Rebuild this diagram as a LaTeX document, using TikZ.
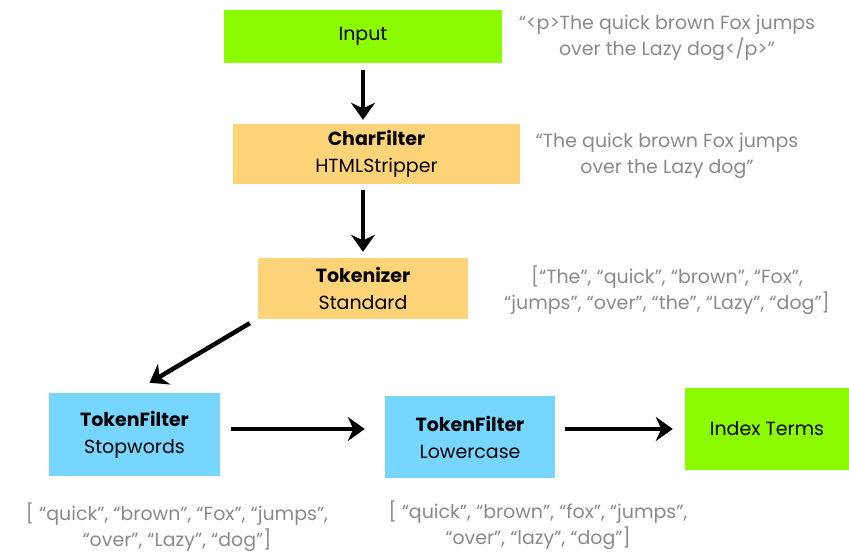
\documentclass[tikz,border=0pt]{standalone}
\usepackage{fontspec}
\setmainfont{Poppins}
\usetikzlibrary{arrows.meta}
\definecolor{boxgreen}{HTML}{8CFB00}
\definecolor{boxorange}{HTML}{FFD479}
\definecolor{boxblue}{HTML}{76D6FF}
\definecolor{notegray}{HTML}{8A8A8A}
\tikzset{
  box/.style={rectangle, draw=none, inner sep=0pt, align=center, text=black,
    font=\fontsize{19}{27}\selectfont},
  note/.style={align=center, text=notegray, inner sep=0pt,
    font=\fontsize{19}{26}\selectfont},
  arr/.style={line width=4.5pt, draw=black, -{Stealth[length=17pt,width=24pt]}}
}
\begin{document}
\begin{tikzpicture}[x=1pt,y=-1pt]
\useasboundingbox (0,0) rectangle (849,554);
% boxes
\node[box, fill=boxgreen, minimum width=278pt, minimum height=53pt] (input) at (363,36.5) {Input};
\node[box, fill=boxorange, minimum width=287pt, minimum height=60pt] (cf) at (376.5,154) {\textbf{CharFilter}\\HTMLStripper};
\node[box, fill=boxorange, minimum width=210pt, minimum height=61pt] (tok) at (363,288.5) {\textbf{Tokenizer}\\Standard};
\node[box, fill=boxblue, minimum width=171pt, minimum height=83pt] (sw) at (134.5,434.5) {\textbf{TokenFilter}\\Stopwords};
\node[box, fill=boxblue, minimum width=170pt, minimum height=82pt] (lc) at (470,437) {\textbf{TokenFilter}\\Lowercase};
\node[box, fill=boxgreen, minimum width=164pt, minimum height=82pt] (idx) at (767,429) {Index Terms};
% notes
\node[note] (n1) at (667,38) {“<p>The quick brown Fox jumps\\over the Lazy dog</p>”};
\node[note] (n2) at (667,156) {“The quick brown Fox jumps\\over the Lazy dog”};
\node[note] (n3) at (667,290) {[“The”, “quick”, “brown”, “Fox”,\\“jumps”, “over”, “the”, “Lazy”, “dog”]};
\node[note] (n4) at (177,527) {[ “quick”, “brown”, “Fox”, “jumps”,\\“over”, “Lazy”, “dog”]};
\node[note] (n5) at (538,525) {[ “quick”, “brown”, “fox”, “jumps”,\\“over”, “lazy”, “dog”]};
% arrows
\draw[arr] ([yshift=-7pt]input.south) -- ([yshift=4pt]input.south |- cf.north);
\draw[arr] ([yshift=-6pt]input.south |- cf.south) -- ([yshift=6pt]input.south |- tok.north);
\draw[arr] ([shift={(-8pt,-4pt)}]tok.south west) -- ([shift={(15pt,10pt)}]sw.north);
\draw[arr] ([shift={(11pt,5.5pt)}]sw.east) -- ([shift={(-20pt,8pt)}]lc.west);
\draw[arr] ([shift={(10pt,8pt)}]lc.east) -- ([shift={(-12pt,0pt)}]idx.west);
\end{tikzpicture}
\end{document}
